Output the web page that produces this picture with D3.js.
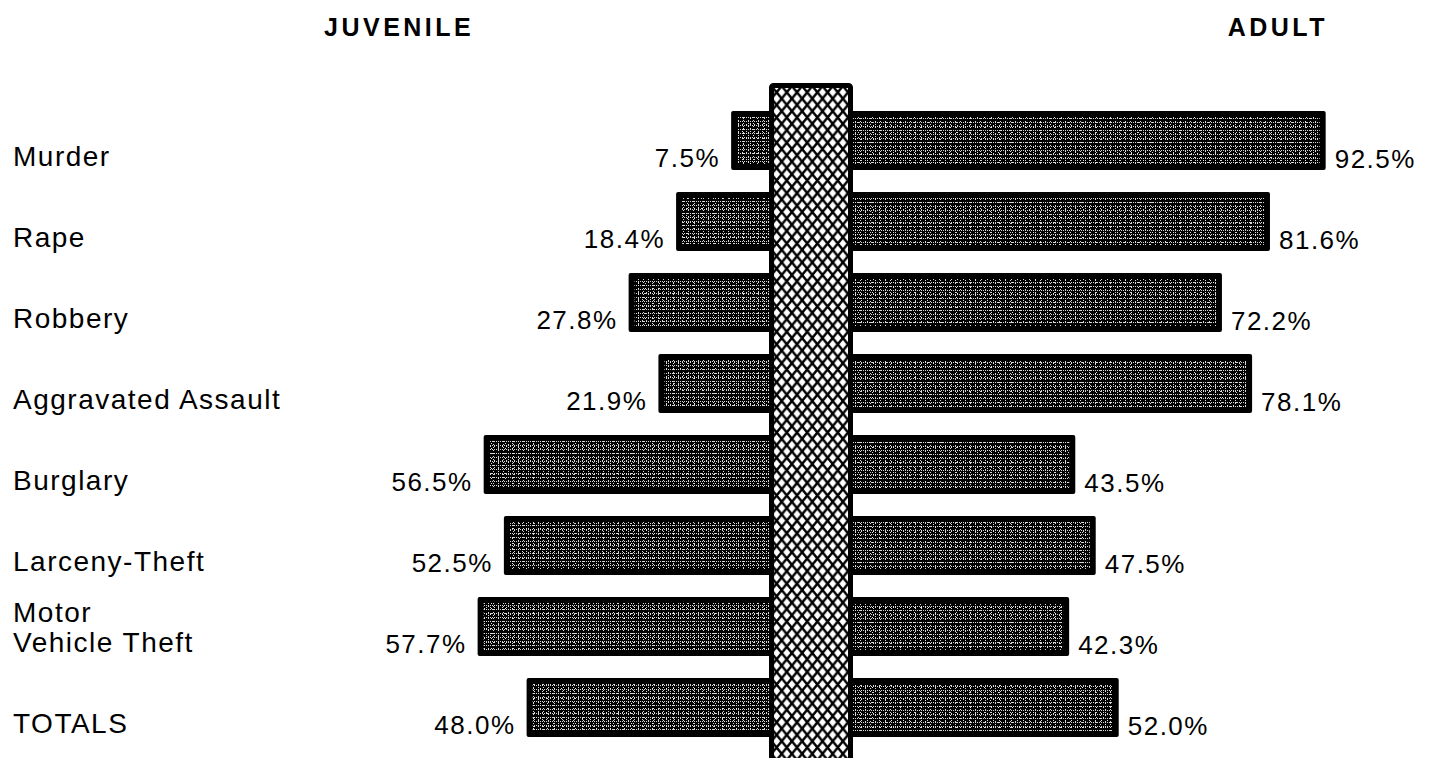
<!DOCTYPE html>
<html>
<head>
<meta charset="utf-8">
<script src="https://cdn.jsdelivr.net/npm/d3@7"></script>
<style>
  html, body { margin: 0; padding: 0; background: #fff; }
  svg { display: block; }
  text { font-family: "Liberation Sans", Arial, Helvetica, sans-serif; fill: #000; }
</style>
</head>
<body>
<svg id="chart" width="1433" height="758"></svg>
<script>
// ---- data ----
const categories = ["Murder", "Rape", "Robbery", "Aggravated Assault", "Burglary", "Larceny-Theft", "Motor\nVehicle Theft", "TOTALS"];
const juvenile = [7.5, 18.4, 27.8, 21.9, 56.5, 52.5, 57.7, 48.0];
const adult = [92.5, 81.6, 72.2, 78.1, 43.5, 47.5, 42.3, 52.0];
const headers = ["JUVENILE", "ADULT"];

const W = 1433, H = 758;
const svg = d3.select("#chart");
const defs = svg.append("defs");

// stipple layers (halftone look): each layer = one light dot per tile
const stippleLayers = {
  juv: [[2, 4, 0, 1], [5, 3, 3, 0], [7, 5, 1, 3], [4, 7, 2, 5]],
  adu: [[2, 4, 1, 2], [5, 3, 0, 1], [7, 5, 4, 2], [6, 7, 3, 6]]
};
Object.entries(stippleLayers).forEach(([id, layers]) => {
  layers.forEach((l, k) => {
    const p = defs.append("pattern").attr("id", id + k).attr("patternUnits", "userSpaceOnUse")
      .attr("width", l[0]).attr("height", l[1]);
    p.append("rect").attr("x", l[2]).attr("y", l[3]).attr("width", 1).attr("height", 1).attr("fill", "#d8d8d8");
  });
});

// crosshatch lattice
const LW = 10.2, LH = 12.6;
const lat = defs.append("pattern").attr("id", "lattice").attr("patternUnits", "userSpaceOnUse")
  .attr("x", 771.5).attr("y", 86).attr("width", LW).attr("height", LH);
lat.append("rect").attr("width", LW).attr("height", LH).attr("fill", "#fff");
lat.append("path").attr("d", `M${-LW*0.1},${-LH*0.1}L${LW*1.1},${LH*1.1}M${LW*1.1},${-LH*0.1}L${-LW*0.1},${LH*1.1}`)
  .attr("stroke", "#000").attr("stroke-width", 2.4);

// ---- scales ----
const colL = 769, colR = 853;
const xJ = d3.scaleLinear().domain([0, 100]).range([colL, colL - 505]);
const xA = d3.scaleLinear().domain([0, 100]).range([colR, colR + 511]);
const y = d3.scaleBand().domain(categories).range([111, 737]).paddingInner(22 / 81).paddingOuter(0);
const fmt = v => d3.format(".1f")(v) + "%";

const B = 6; // border thickness of bars

function stippleFill(g, id, x, yy, w, h) {
  stippleLayers[id].forEach((l, k) => {
    g.append("rect").attr("x", x).attr("y", yy).attr("width", w).attr("height", h).attr("fill", `url(#${id}${k})`);
  });
}

// juvenile bars
const gJ = svg.append("g");
categories.forEach((c, i) => {
  const x0 = xJ(juvenile[i]), y0 = y(c), h = y.bandwidth();
  gJ.append("rect").attr("x", x0).attr("y", y0).attr("width", colL - x0 + 2).attr("height", h)
    .attr("rx", 2).attr("fill", "#000");
  stippleFill(gJ, "juv", x0 + B, y0 + B, colL - x0 - B, h - 2 * B);
  gJ.append("text").attr("x", x0 - 11).attr("y", y0 + h - 3).attr("text-anchor", "end")
    .attr("font-size", 26).attr("letter-spacing", 1.5).text(fmt(juvenile[i]));
});

// adult bars
const gA = svg.append("g");
categories.forEach((c, i) => {
  const x1 = xA(adult[i]), y0 = y(c), h = y.bandwidth();
  gA.append("rect").attr("x", colR - 2).attr("y", y0).attr("width", x1 - colR + 2).attr("height", h)
    .attr("rx", 2).attr("fill", "#000");
  stippleFill(gA, "adu", colR, y0 + B, x1 - colR - B, h - 2 * B);
  gA.append("text").attr("x", x1 + 9).attr("y", y0 + h - 2).attr("text-anchor", "start")
    .attr("font-size", 26).attr("letter-spacing", 1.5).text(fmt(adult[i]));
});

// central crosshatched column
svg.append("rect").attr("x", colL + 2.5).attr("y", 85.5).attr("width", colR - colL - 5).attr("height", H)
  .attr("fill", "url(#lattice)").attr("stroke", "#000").attr("stroke-width", 5).attr("rx", 2);

// category labels
const gL = svg.append("g");
categories.forEach(c => {
  const lines = c.split("\n");
  const base = y(c) + y.bandwidth() - 4;
  lines.forEach((ln, k) => {
    gL.append("text").attr("x", 13).attr("y", base - (lines.length - 1 - k) * 30)
      .attr("font-size", 28).attr("letter-spacing", 1.5).text(ln);
  });
});

// headers
svg.append("text").attr("x", 324).attr("y", 36).attr("font-size", 25).attr("font-weight", "bold")
  .attr("letter-spacing", 3.5).text(headers[0]);
svg.append("text").attr("x", 1328).attr("y", 36).attr("font-size", 25).attr("font-weight", "bold")
  .attr("letter-spacing", 3.5).attr("text-anchor", "end").text(headers[1]);
</script>
</body>
</html>
